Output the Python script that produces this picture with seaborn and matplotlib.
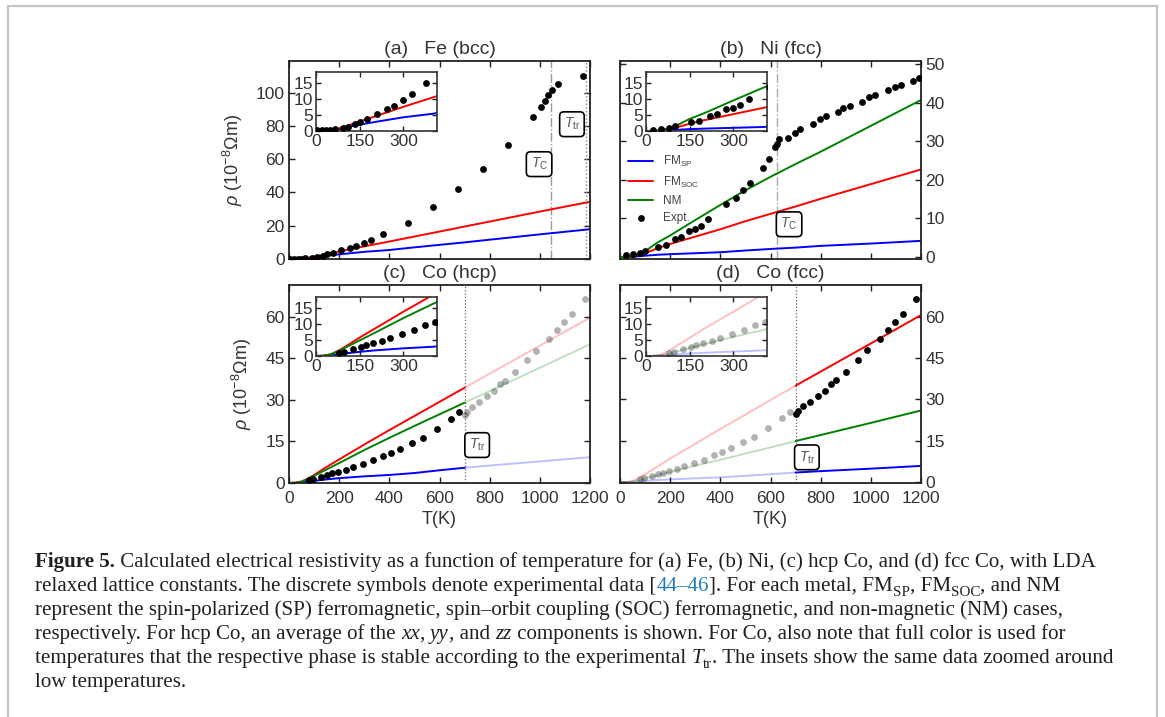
import matplotlib
matplotlib.use("Agg")
import matplotlib.pyplot as plt
import seaborn as sns
import pandas as pd
import numpy as np
from matplotlib.lines import Line2D
from matplotlib.font_manager import FontProperties

# ---------------------------------------------------------------------------
# Calculated resistivity (10^-8 Ohm m) on a common temperature grid (K)
calc_T = [0, 25, 50, 75, 100, 150, 200, 300, 400, 500, 600, 700, 800, 1000, 1200]

fe_sp = [0, 0.0, 0.1, 0.5, 1.1, 2.0, 2.8, 4.3, 5.4, 7.0, 8.5, 10.0, 11.6, 14.8, 17.9]
fe_soc = [0, 0.0, 0.15, 0.7, 1.4, 3.0, 4.5, 7.6, 10.5, 13.5, 16.5, 19.5, 22.5, 28.5, 34.4]

ni_sp = [0, 0.0, 0.05, 0.2, 0.35, 0.6, 0.75, 1.0, 1.25, 1.7, 2.1, 2.45, 2.9, 3.5, 4.2]
ni_soc = [0, 0.0, 0.1, 0.6, 1.0, 2.3, 3.4, 5.3, 7.2, 9.3, 11.2, 13.1, 15.1, 18.9, 22.7]
ni_nm = [0, 0.0, 0.2, 0.8, 1.5, 3.8, 5.6, 9.6, 13.5, 17.3, 20.8, 24.1, 27.3, 34.0, 40.7]

hcp_sp = [0, 0.05, 0.2, 0.5, 0.8, 1.3, 1.75, 2.4, 2.9, 3.6, 4.6, 5.5, 6.3, 7.8, 9.3]
hcp_soc = [0, 0.1, 0.5, 1.6, 2.9, 5.8, 8.5, 13.9, 19.1, 24.2, 29.3, 34.4, 39.5, 49.6, 59.7]
hcp_nm = [0, 0.1, 0.5, 1.4, 2.6, 4.9, 7.2, 11.9, 16.3, 20.6, 24.8, 29.0, 33.2, 41.6, 50.1]

fcc_sp = [0, 0.02, 0.1, 0.3, 0.5, 0.8, 1.0, 1.4, 1.75, 2.3, 2.9, 3.5, 4.0, 4.9, 5.9]
fcc_soc = [0, 0.05, 0.4, 1.5, 2.9, 5.7, 8.6, 13.9, 19.3, 24.5, 29.8, 35.0, 40.1, 50.3, 60.6]
fcc_nm = [0, 0.05, 0.2, 0.7, 1.3, 2.5, 3.7, 6.0, 8.1, 10.4, 12.6, 14.9, 17.1, 21.5, 26.0]

# Experimental resistivity
fe_expt_T = [2, 20, 35, 48, 65, 92, 111, 134, 152, 176, 208, 245, 266, 298, 328,
             376, 476, 575, 672, 772, 873, 974, 1005, 1021, 1034, 1049, 1072, 1173]
fe_expt_rho = [0.3, 0.3, 0.3, 0.3, 0.5, 0.8, 1.25, 2.1, 2.8, 3.75, 5.2, 6.9, 7.8, 9.8, 11.6,
               14.9, 21.9, 31.1, 41.8, 53.8, 68.7, 85.5, 91.4, 94.8, 98.6, 101.8, 105.0, 110.2]

ni_expt_T = [24, 53, 80, 100, 153, 183, 219, 242, 275, 300, 323, 352, 423, 462, 492, 518,
             569, 595, 619, 625, 635, 668, 698, 718, 771, 797, 821, 870, 888, 917, 963,
             994, 1017, 1070, 1096, 1120, 1167, 1193]
ni_expt_rho = [0.43, 0.78, 0.95, 1.64, 2.68, 3.1, 4.8, 5.3, 6.8, 7.25, 8.0, 9.9, 13.8, 15.2,
               17.4, 19.3, 23.1, 25.5, 28.6, 29.2, 30.5, 30.9, 32.2, 33.1, 34.6, 35.9, 36.5,
               37.6, 38.7, 39.1, 40.2, 41.5, 42.0, 43.3, 44.1, 44.6, 45.6, 46.3]

co_hcp_expt_T = [78, 97, 126, 153, 173, 195, 226, 255, 296, 335, 375, 408, 441, 490, 534,
                 590, 644, 679]
co_hcp_expt_rho = [1.0, 1.4, 2.3, 2.9, 3.5, 4.1, 4.8, 5.7, 6.9, 8.2, 9.7, 10.8, 12.3, 14.5,
                   16.3, 19.6, 23.1, 25.5]
co_fcc_expt_T = [700, 711, 731, 758, 788, 817, 840, 861, 900, 950, 986, 1037, 1070, 1096,
                 1130, 1180]
co_fcc_expt_rho = [24.7, 25.7, 27.5, 29.1, 31.3, 33.2, 35.7, 36.9, 40.0, 44.4, 47.8, 52.0,
                   55.2, 58.0, 60.9, 66.3]

fe_Tc, fe_Ttr = 1043, 1185
ni_Tc = 627
co_Ttr = 700

model_labels = [r"FM$_\mathrm{SP}$", r"FM$_\mathrm{SOC}$", "NM", "Expt."]
panel_titles = ["(a)   Fe (bcc)", "(b)   Ni (fcc)", "(c)   Co (hcp)", "(d)   Co (fcc)"]
x_ticks = [0, 200, 400, 600, 800, 1000, 1200]
fe_y_ticks = [0, 20, 40, 60, 80, 100]
ni_y_ticks = [0, 10, 20, 30, 40, 50]
co_y_ticks = [0, 15, 30, 45, 60]
inset_x_ticks = [0, 150, 300]
inset_y_ticks = [0, 5, 10, 15]

caption_lines = [
    [("Figure 5.", "bold"),
     (" Calculated electrical resistivity as a function of temperature for (a) Fe, (b) Ni, "
      "(c) hcp Co, and (d) fcc Co, with LDA", "normal")],
    [("relaxed lattice constants. The discrete symbols denote experimental data [", "normal"),
     ("44\u201346", "link"), ("]. For each metal, FM", "normal"), ("SP", "sub"),
     (", FM", "normal"), ("SOC", "sub"), (", and NM", "normal")],
    [("represent the spin-polarized (SP) ferromagnetic, spin\u2013orbit coupling (SOC) "
      "ferromagnetic, and non-magnetic (NM) cases,", "normal")],
    [("respectively. For hcp Co, an average of the ", "normal"), ("xx", "italic"),
     (", ", "normal"), ("yy", "italic"), (", and ", "normal"), ("zz", "italic"),
     (" components is shown. For Co, also note that full color is used for", "normal")],
    [("temperatures that the respective phase is stable according to the experimental ",
      "normal"), ("T", "italic"), ("tr", "sub"),
     (". The insets show the same data zoomed around", "normal")],
    [("low temperatures.", "normal")],
]

# ---------------------------------------------------------------------------
sns.set_theme(style="ticks")
plt.rcParams.update({
    "font.family": ["Liberation Sans", "DejaVu Sans"],
    "mathtext.fontset": "custom",
    "mathtext.rm": "Liberation Sans",
    "mathtext.it": "Liberation Sans:italic",
    "mathtext.bf": "Liberation Sans:bold",
    "axes.edgecolor": "#222222",
    "axes.linewidth": 1.3,
    "xtick.direction": "in",
    "ytick.direction": "in",
    "xtick.top": True,
    "ytick.right": True,
    "xtick.major.size": 4,
    "ytick.major.size": 4,
    "xtick.major.width": 1.0,
    "ytick.major.width": 1.0,
    "xtick.color": "#222222",
    "ytick.color": "#222222",
    "xtick.labelcolor": "#333333",
    "ytick.labelcolor": "#333333",
    "axes.labelcolor": "#333333",
})

W, H = 1165, 717
fig = plt.figure(figsize=(W / 100, H / 100), dpi=100)
fig.patch.set_facecolor("white")


def rect(left, top, right, bottom):
    return [left / W, 1 - bottom / H, (right - left) / W, (bottom - top) / H]


BLUE, RED, GREEN = "#0000ff", "#ff0000", "#008000"
FADE = 0.25
TICK_FS = 12.5
LW = 1.4


def curve(ax, T, vals, color, alpha=1.0, label=None):
    df = pd.DataFrame({"T": T, "rho": vals})
    sns.lineplot(data=df, x="T", y="rho", ax=ax, color=color, alpha=alpha, lw=LW,
                 estimator=None, sort=False, legend=False, label=label)


def split_curve(ax, vals, color, full_low, label=None):
    T = np.array(calc_T)
    v = np.array(vals)
    lo = T <= co_Ttr
    hi = T >= co_Ttr
    if full_low:
        curve(ax, T[lo], v[lo], color, 1.0, label)
        curve(ax, T[hi], v[hi], color, FADE)
    else:
        curve(ax, T[lo], v[lo], color, FADE)
        curve(ax, T[hi], v[hi], color, 1.0, label)


def dots(ax, T, rho, color="black", label=None, alpha=1.0):
    sns.scatterplot(x=T, y=rho, ax=ax, color=color, s=24, linewidth=0, alpha=alpha,
                    legend=False, label=label, zorder=4)


def style_main(ax, yticks, ylim, right=False, bottom_labels=False):
    ax.set_xlim(0, 1200)
    ax.set_ylim(*ylim)
    ax.set_xticks(x_ticks)
    ax.set_yticks(yticks)
    ax.tick_params(labelsize=TICK_FS, pad=3)
    ax.tick_params(axis="x", labelbottom=bottom_labels, pad=6)
    if right:
        ax.tick_params(axis="y", labelleft=False, labelright=True)
    ax.set_xlabel("")
    ax.set_ylabel("")


def style_inset(ax):
    ax.set_xlim(0, 415)
    ax.set_ylim(0, 18.5)
    ax.set_xticks(inset_x_ticks)
    ax.set_yticks(inset_y_ticks)
    ax.tick_params(labelsize=TICK_FS, pad=2, length=3.5)
    ax.set_xlabel("")
    ax.set_ylabel("")
    for s in ax.spines.values():
        s.set_linewidth(1.2)
        s.set_color("#333333")


def boxed(ax, x, y, txt):
    ax.text(x, y, txt, ha="center", va="center", fontsize=10, color="#555555", zorder=6,
            bbox=dict(boxstyle="round,pad=0.3,rounding_size=0.3", fc="white", ec="black",
                      lw=1.2))


ax_a = fig.add_axes(rect(289, 61, 590, 259))
ax_b = fig.add_axes(rect(620, 61, 921, 259))
ax_c = fig.add_axes(rect(289, 285, 590, 483))
ax_d = fig.add_axes(rect(620, 285, 921, 483))
in_a = fig.add_axes(rect(316, 72, 437, 131), zorder=5)
in_b = fig.add_axes(rect(646, 72, 767, 131), zorder=5)
in_c = fig.add_axes(rect(316, 297, 437, 356), zorder=5)
in_d = fig.add_axes(rect(646, 297, 767, 356), zorder=5)

# (a) Fe
for ax in (ax_a, in_a):
    curve(ax, calc_T, fe_sp, BLUE)
    curve(ax, calc_T, fe_soc, RED)
    dots(ax, fe_expt_T, fe_expt_rho)
ax_a.axvline(fe_Tc, color="#999999", ls="-.", lw=1.0, zorder=1)
ax_a.axvline(fe_Ttr, color="#888888", ls=":", lw=1.0, zorder=1)
boxed(ax_a, 997, 57, r"$T_\mathrm{C}$")
boxed(ax_a, 1128, 81, r"$T_\mathrm{tr}$")
style_main(ax_a, fe_y_ticks, (0, 119))

# (b) Ni
for ax, lab in ((ax_b, True), (in_b, False)):
    curve(ax, calc_T, ni_sp, BLUE, label=model_labels[0] if lab else None)
    curve(ax, calc_T, ni_soc, RED, label=model_labels[1] if lab else None)
    curve(ax, calc_T, ni_nm, GREEN, label=model_labels[2] if lab else None)
    dots(ax, ni_expt_T, ni_expt_rho, label=model_labels[3] if lab else None)
ax_b.axvline(ni_Tc, color="#aaaaaa", ls="-.", lw=1.0, zorder=1)
boxed(ax_b, 674, 8.5, r"$T_\mathrm{C}$")
style_main(ax_b, ni_y_ticks, (-0.5, 50.8), right=True)
ax_b.legend(loc="upper left", bbox_to_anchor=(0.025, 0.53), frameon=False, fontsize=8.5,
            labelcolor="#444444", handlelength=2.2, handletextpad=0.8, labelspacing=0.45,
            borderpad=0, borderaxespad=0)

# (c) Co hcp: hcp phase stable below the transition
for ax in (ax_c, in_c):
    split_curve(ax, hcp_sp, BLUE, True)
    split_curve(ax, hcp_soc, RED, True)
    split_curve(ax, hcp_nm, GREEN, True)
    dots(ax, co_hcp_expt_T, co_hcp_expt_rho)
    dots(ax, co_fcc_expt_T, co_fcc_expt_rho, alpha=0.3)
ax_c.axvline(co_Ttr, color="#666666", ls=":", lw=0.9, zorder=1)
boxed(ax_c, 750, 13.7, r"$T_\mathrm{tr}$")
style_main(ax_c, co_y_ticks, (0, 71.5), bottom_labels=True)

# (d) Co fcc: fcc phase stable above the transition
for ax in (ax_d, in_d):
    split_curve(ax, fcc_sp, BLUE, False)
    split_curve(ax, fcc_soc, RED, False)
    split_curve(ax, fcc_nm, GREEN, False)
    dots(ax, co_hcp_expt_T, co_hcp_expt_rho, alpha=0.3)
    dots(ax, co_fcc_expt_T, co_fcc_expt_rho)
ax_d.axvline(co_Ttr, color="#666666", ls=":", lw=0.9, zorder=1)
boxed(ax_d, 745, 9, r"$T_\mathrm{tr}$")
style_main(ax_d, co_y_ticks, (-0.3, 71.5), right=True, bottom_labels=True)

for ax in (in_a, in_b, in_c, in_d):
    style_inset(ax)

for ax, title in zip((ax_a, ax_b, ax_c, ax_d), panel_titles):
    ax.set_title(title, fontsize=14, color="#333333", pad=5)

ylab = r"$\rho$ (10$^{-8}$$\Omega$m)"
for ax in (ax_a, ax_c):
    ax.set_ylabel(ylab, fontsize=13, labelpad=8)
for ax in (ax_c, ax_d):
    ax.set_xlabel("T(K)", fontsize=13, labelpad=3)

# Outer frame
frame_kw = dict(transform=fig.transFigure, color="#c4c4c4", lw=1.6)
fig.add_artist(Line2D([8 / W, 8 / W], [0, 1 - 6 / H], **frame_kw))
fig.add_artist(Line2D([8 / W, 1157 / W], [1 - 6 / H, 1 - 6 / H], **frame_kw))
fig.add_artist(Line2D([1157 / W, 1157 / W], [0, 1 - 6 / H], **frame_kw))

# Caption, set piece by piece so bold, italic, links and subscripts can mix
renderer = fig.canvas.get_renderer()
SERIF = "Liberation Serif"
TEXT_COLOR = "#231f20"
LINK_COLOR = "#1f7bbf"


def seg_props(kind, size):
    fp = FontProperties(family=SERIF, size=size)
    color, dy = TEXT_COLOR, 0.0
    if kind == "bold":
        fp.set_weight("bold")
    elif kind == "italic":
        fp.set_style("italic")
    elif kind == "link":
        color = LINK_COLOR
    elif kind == "sub":
        fp.set_size(size * 0.72)
        dy = size * 0.22
    return fp, color, dy


def advance(text, fp):
    w1, _, _ = renderer.get_text_width_height_descent(text + "|", fp, ismath=False)
    w2, _, _ = renderer.get_text_width_height_descent("|", fp, ismath=False)
    return w1 - w2


def line_width(segs, size):
    return sum(advance(t, seg_props(k, size)[0]) for t, k in segs)


cap_size = 10 * (1092 - 35) / line_width(caption_lines[0], 10)
px_per_pt = 100 / 72
for i, segs in enumerate(caption_lines):
    x = 35.0
    base = 567 + 24 * i
    for text, kind in segs:
        fp, color, dy = seg_props(kind, cap_size)
        fig.text(x / W, 1 - (base + dy * px_per_pt) / H, text, fontproperties=fp,
                 color=color, ha="left", va="baseline")
        x += advance(text, fp)

fig.savefig("out.png", dpi=100, facecolor="white")
